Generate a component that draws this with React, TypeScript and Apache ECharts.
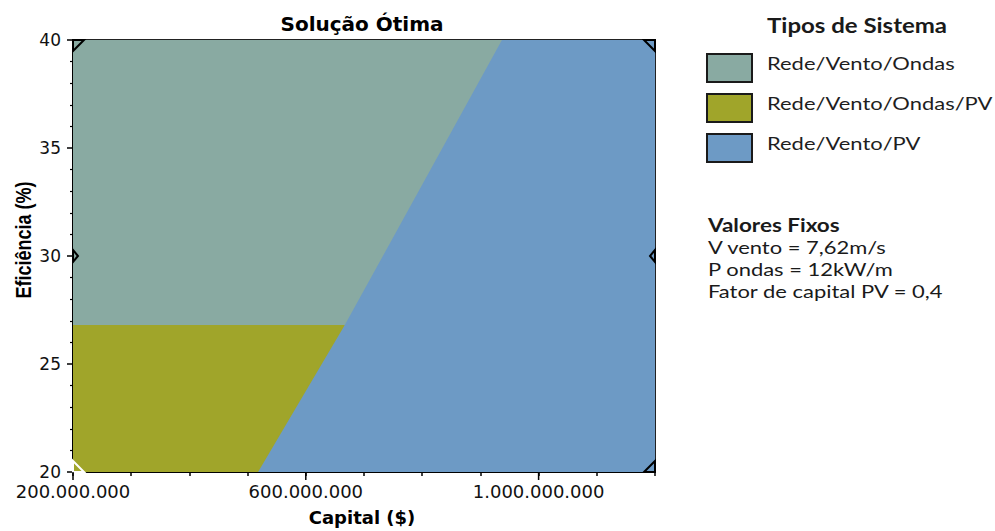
import { useEffect, useRef } from 'react';
import * as echarts from 'echarts';

// ---- data ----
const chartTitle = 'Solução Ótima';
const xAxisName = 'Capital ($)';
const yAxisName = 'Eficiência (%)';
const legendTitle = 'Tipos de Sistema';
const systemTypes = ['Rede/Vento/Ondas', 'Rede/Vento/Ondas/PV', 'Rede/Vento/PV'];
const capitalMin = 200000000;
const capitalMax = 1200000000;
const capitalTickStep = 100000000;
const capitalLabelValues = [200000000, 600000000, 1000000000];
const efficiencyMin = 20;
const efficiencyMax = 40;
const efficiencyTickStep = 5;
// boundary of the Rede/Vento/PV region (capital, efficiency)
const pvBoundaryCapital = [518000000, 667000000, 937000000];
const pvBoundaryEfficiency = [20, 26.8, 40];
// upper efficiency of the Rede/Vento/Ondas/PV region
const ondasPvMaxEfficiency = 26.8;
// sensitivity case markers
const markerCapital = [200000000, 200000000, 200000000, 1200000000, 1200000000, 1200000000];
const markerEfficiency = [20, 30, 40, 20, 30, 40];
const fixedValuesTitle = 'Valores Fixos';
const fixedValues = ['V vento = 7,62m/s', 'P ondas = 12kW/m', 'Fator de capital PV = 0,4'];

const regionColors = ['#89aaa2', '#a0a52a', '#6d9ac5'];

const fmtCapital = (v: number) => String(Math.round(v)).replace(/\B(?=(\d{3})+(?!\d))/g, '.');

const regions: number[][][] = [
  [
    [capitalMin, efficiencyMin],
    [capitalMax, efficiencyMin],
    [capitalMax, efficiencyMax],
    [capitalMin, efficiencyMax],
  ],
  [
    [capitalMin, efficiencyMin],
    [pvBoundaryCapital[1], efficiencyMin],
    [pvBoundaryCapital[1], ondasPvMaxEfficiency],
    [capitalMin, ondasPvMaxEfficiency],
  ],
  [
    ...pvBoundaryCapital.map((c, i) => [c, pvBoundaryEfficiency[i]]),
    [capitalMax, efficiencyMax],
    [capitalMax, efficiencyMin],
  ],
];

const sideFont = 'Lato';
const sideSize = 18;
const sideStretch = 1.22;

export default function App() {
  const ref = useRef<HTMLDivElement>(null);
  useEffect(() => {
    if (!ref.current) return;
    const chart = echarts.init(ref.current, undefined, { renderer: 'svg' });

    const regionSeries = systemTypes.map((name, i) => ({
      type: 'custom',
      name,
      coordinateSystem: 'cartesian2d',
      itemStyle: { color: regionColors[i] },
      silent: true,
      clip: true,
      z: 1 + i * 0.1,
      data: [regions[i][0]],
      renderItem: (params: any, api: any) => {
        const pts = regions[i].map((p) => api.coord(p));
        return {
          type: 'polygon',
          shape: { points: pts },
          style: { fill: regionColors[i], stroke: null },
        };
      },
    }));

    const legendItems: any[] = [];
    systemTypes.forEach((name, i) => {
      legendItems.push({
        type: 'rect',
        shape: { x: 707, y: 54 + i * 40, width: 45, height: 28 },
        style: { fill: regionColors[i], stroke: '#1a1a1a', lineWidth: 2 },
      });
      legendItems.push({
        type: 'text',
        x: 767,
        y: 63 + i * 40,
        scaleX: sideStretch,
        style: {
          text: name,
          fontFamily: sideFont,
          fontSize: sideSize,
          fill: '#1e1e1e',
          align: 'left',
          verticalAlign: 'middle',
        },
      });
    });

    const fixedTexts: any[] = [fixedValuesTitle, ...fixedValues].map((t, i) => ({
      type: 'text',
      x: 708,
      y: 224.5 + i * 22,
      scaleX: i === 0 ? 1.25 : sideStretch,
      style: {
        text: t,
        fontFamily: sideFont,
        fontWeight: i === 0 ? 'bold' : 'normal',
        fontSize: sideSize,
        lineHeight: 20,
        fill: '#1a1a1a',
        align: 'left',
        verticalAlign: 'middle',
      },
    }));

    const option: any = {
      animation: false,
      grid: {
        left: 73,
        right: 340,
        top: 40,
        bottom: 59,
        show: true,
        borderColor: '#222',
        borderWidth: 2,
        backgroundColor: 'transparent',
      },
      xAxis: {
        type: 'value',
        min: capitalMin,
        max: capitalMax,
        interval: capitalTickStep,
        splitLine: { show: false },
        axisLine: { show: true, onZero: false, lineStyle: { color: '#000', width: 2 } },
        axisTick: { show: true, length: 4, lineStyle: { color: '#000', width: 1.5 } },
        axisLabel: {
          margin: 10,
          fontFamily: 'DejaVu Sans',
          fontSize: 18,
          color: '#111',
          formatter: (v: number) => (capitalLabelValues.includes(v) ? fmtCapital(v) : ''),
        },
      },
      yAxis: {
        type: 'value',
        min: efficiencyMin,
        max: efficiencyMax,
        interval: efficiencyTickStep,
        splitLine: { show: false },
        axisLine: { show: true, onZero: false, lineStyle: { color: '#000', width: 2 } },
        axisTick: { show: true, length: 6, lineStyle: { color: '#000', width: 1.5 } },
        minorTick: { show: true, splitNumber: 5, length: 3, lineStyle: { color: '#000', width: 1.2 } },
        axisLabel: {
          margin: 12,
          fontFamily: 'DejaVu Sans',
          fontSize: 17,
          color: '#111',
        },
      },
      series: [
        ...regionSeries,
        {
          type: 'custom',
          name: 'majorTicks',
          coordinateSystem: 'cartesian2d',
          silent: true,
          clip: false,
          z: 5,
          data: capitalLabelValues.map((v) => [v, efficiencyMin]),
          renderItem: (params: any, api: any) => {
            const p = api.coord([api.value(0), api.value(1)]);
            return {
              type: 'line',
              shape: { x1: p[0], y1: p[1], x2: p[0], y2: p[1] + 8 },
              style: { stroke: '#000', lineWidth: 1.5 },
            };
          },
        },
        {
          type: 'custom',
          name: 'markers',
          coordinateSystem: 'cartesian2d',
          silent: true,
          clip: false,
          z: 4,
          data: markerCapital.map((c, i) => [c, markerEfficiency[i]]),
          renderItem: (params: any, api: any) => {
            const c = api.value(0);
            const e = api.value(1);
            const p = api.coord([c, e]);
            const dx = c === capitalMin ? 1 : -1;
            let points: number[][];
            if (e === efficiencyMin || e === efficiencyMax) {
              const dy = e === efficiencyMax ? 1 : -1;
              points = [
                [p[0], p[1]],
                [p[0] + dx * 11, p[1]],
                [p[0], p[1] + dy * 11],
              ];
            } else {
              points = [
                [p[0], p[1] - 6],
                [p[0] + dx * 5, p[1]],
                [p[0], p[1] + 6],
              ];
            }
            const white = c === capitalMin && e === efficiencyMin;
            return {
              type: 'polygon',
              shape: { points },
              style: { fill: 'none', stroke: white ? '#fff' : '#000', lineWidth: 2 },
            };
          },
        },
      ],
      graphic: [
        {
          type: 'text',
          x: 362,
          y: 24,
          style: {
            text: chartTitle,
            fontFamily: 'DejaVu Sans',
            fontWeight: 'bold',
            fontSize: 20,
            fill: '#000',
            align: 'center',
            verticalAlign: 'middle',
          },
        },
        {
          type: 'text',
          x: 362,
          y: 517,
          style: {
            text: xAxisName,
            fontFamily: 'DejaVu Sans',
            fontWeight: 'bold',
            fontSize: 18,
            fill: '#000',
            align: 'center',
            verticalAlign: 'middle',
          },
        },
        {
          type: 'text',
          x: 23,
          y: 240,
          rotation: Math.PI / 2,
          scaleY: 1.2,
          style: {
            text: yAxisName,
            fontFamily: 'Liberation Sans',
            fontWeight: 'bold',
            fontSize: 18,
            fill: '#000',
            align: 'center',
            verticalAlign: 'middle',
          },
        },
        {
          type: 'text',
          x: 767,
          y: 25,
          scaleX: 1.2,
          style: {
            text: legendTitle,
            fontFamily: sideFont,
            fontWeight: 'bold',
            fontSize: 20,
            fill: '#1a1a1a',
            align: 'left',
            verticalAlign: 'middle',
          },
        },
        ...legendItems,
        ...fixedTexts,
      ],
    };
    chart.setOption(option);
    return () => chart.dispose();
  }, []);
  return (
    <div
      ref={ref}
      style={{ position: 'absolute', left: 0, top: 0, width: 995, height: 531, background: '#fff' }}
    />
  );
}
